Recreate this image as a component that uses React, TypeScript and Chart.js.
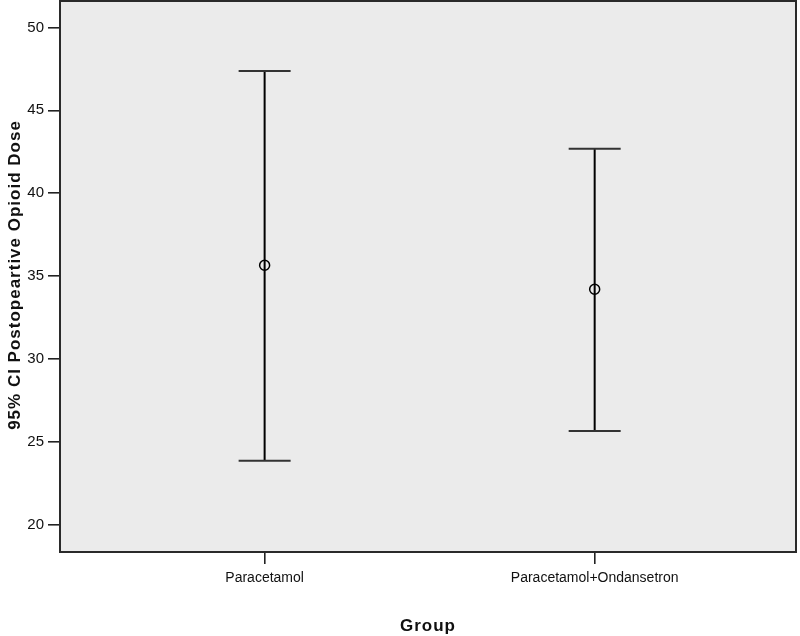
import React, { useEffect, useRef } from "react";
import { Chart, registerables } from "chart.js";

Chart.register(...registerables);

const categories = ["Paracetamol", "Paracetamol+Ondansetron"];
const means = [35.65, 34.2];
const lowerCI = [23.85, 25.65];
const upperCI = [47.38, 42.68];
const yTicks = [20, 25, 30, 35, 40, 45, 50];
const yTitle = "95% CI Postopeartive Opioid Dose";
const xTitle = "Group";

const FONT = "'Liberation Sans', Arial, sans-serif";

const framePlugin = {
  id: "frame",
  beforeDraw(chart: any) {
    const { ctx, chartArea } = chart;
    ctx.save();
    ctx.fillStyle = "#ffffff";
    ctx.fillRect(0, 0, chart.width, chart.height);
    ctx.fillStyle = "#ebebeb";
    ctx.fillRect(chartArea.left, chartArea.top, chartArea.right - chartArea.left, chartArea.bottom - chartArea.top);
    ctx.restore();
  },
  afterDatasetsDraw(chart: any) {
    const { ctx } = chart;
    const xs = chart.scales.x;
    const ys = chart.scales.y;
    ctx.save();
    for (let i = 0; i < categories.length; i++) {
      const px = xs.getPixelForValue(i + 1);
      const pLo = ys.getPixelForValue(lowerCI[i]);
      const pHi = ys.getPixelForValue(upperCI[i]);
      const pM = ys.getPixelForValue(means[i]);
      ctx.strokeStyle = "#000";
      ctx.lineWidth = 2;
      ctx.beginPath();
      ctx.moveTo(px, pHi);
      ctx.lineTo(px, pLo);
      ctx.stroke();
      ctx.strokeStyle = "#333";
      ctx.lineWidth = 2;
      ctx.beginPath();
      ctx.moveTo(px - 26, pHi);
      ctx.lineTo(px + 26, pHi);
      ctx.moveTo(px - 26, pLo);
      ctx.lineTo(px + 26, pLo);
      ctx.stroke();
      ctx.strokeStyle = "#000";
      ctx.lineWidth = 1.5;
      ctx.beginPath();
      ctx.arc(px, pM, 5, 0, Math.PI * 2);
      ctx.stroke();
    }
    ctx.restore();
  },
  afterDraw(chart: any) {
    const { ctx, chartArea } = chart;
    ctx.save();
    ctx.strokeStyle = "#2a2a2a";
    ctx.lineWidth = 2;
    ctx.strokeRect(chartArea.left, chartArea.top, chartArea.right - chartArea.left, chartArea.bottom - chartArea.top);
    ctx.fillStyle = "#111";
    ctx.font = `bold 17px ${FONT}`;
    try { (ctx as any).letterSpacing = "1px"; } catch (e) {}
    ctx.textAlign = "center";
    ctx.textBaseline = "middle";
    ctx.fillText(xTitle, (chartArea.left + chartArea.right) / 2, 626);
    ctx.translate(15, 275);
    ctx.rotate(-Math.PI / 2);
    ctx.fillText(yTitle, 0, 0);
    ctx.restore();
  },
};

export default function App() {
  const ref = useRef<HTMLCanvasElement | null>(null);
  useEffect(() => {
    if (!ref.current) return;
    const chart = new Chart(ref.current, {
      type: "scatter",
      data: {
        datasets: [
          {
            data: means.map((m, i) => ({ x: i + 1, y: m })),
            pointRadius: 0,
            pointHoverRadius: 0,
            showLine: false,
          },
        ],
      },
      options: {
        animation: false,
        responsive: false,
        devicePixelRatio: 1,
        events: [],
        layout: { padding: { left: 0, right: 4, top: 1, bottom: 0 } },
        plugins: { legend: { display: false }, tooltip: { enabled: false } },
        scales: {
          x: {
            type: "linear",
            min: 0.38,
            max: 2.61,
            afterBuildTicks: (s: any) => {
              s.ticks = categories.map((_, i) => ({ value: i + 1 }));
            },
            afterFit: (s: any) => {
              s.height = 84;
              s.paddingLeft = 0;
              s.paddingRight = 0;
            },
            ticks: {
              callback: (v: any) => categories[Number(v) - 1] ?? "",
              color: "#111",
              font: { family: FONT, size: 14 },
              padding: 6,
              maxRotation: 0,
              autoSkip: false,
            },
            grid: {
              drawOnChartArea: false,
              drawTicks: true,
              tickLength: 12,
              tickColor: "#222",
              lineWidth: 1.6,
            },
            border: { display: false },
          },
          y: {
            type: "linear",
            min: 18.34,
            max: 51.6,
            afterBuildTicks: (s: any) => {
              s.ticks = yTicks.map((v) => ({ value: v }));
            },
            afterFit: (s: any) => {
              s.width = 60;
              s.paddingTop = 0;
              s.paddingBottom = 0;
            },
            ticks: {
              color: "#111",
              font: { family: FONT, size: 15 },
              padding: 4,
            },
            grid: {
              drawOnChartArea: false,
              drawTicks: true,
              tickLength: 12,
              tickColor: "#222",
              lineWidth: 1.6,
            },
            border: { display: false },
          },
        },
      },
      plugins: [framePlugin],
    });
    return () => chart.destroy();
  }, []);
  return (
    <div style={{ position: "fixed", left: 0, top: 0, width: 800, height: 636, background: "#fff" }}>
      <canvas ref={ref} width={800} height={636} style={{ display: "block" }} />
    </div>
  );
}
